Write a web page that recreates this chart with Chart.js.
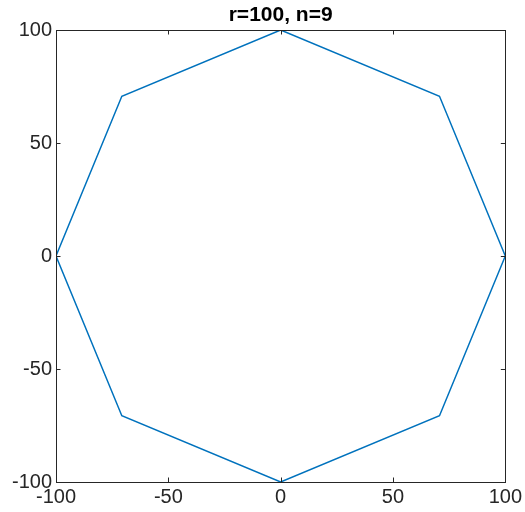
<!DOCTYPE html>
<html>
<head>
<meta charset="utf-8">
<script src="https://cdn.jsdelivr.net/npm/chart.js@4/dist/chart.umd.min.js"></script>
<style>
html,body{margin:0;padding:0;background:#fff;}
#wrap{width:525px;height:512px;position:relative;}
</style>
</head>
<body>
<div id="wrap"><canvas id="c"></canvas></div>
<script>
const titleText = "r=100, n=9";
const xValues = [100, 70.7, 0, -70.7, -100, -70.7, 0, 70.7, 100];
const yValues = [0, 70.7, 100, 70.7, 0, -70.7, -100, -70.7, 0];
const xTicks = [-100, -50, 0, 50, 100];
const yTicks = [-100, -50, 0, 50, 100];

const points = xValues.map((x, i) => ({x: x, y: yValues[i]}));
const axisColor = '#262626';
const fontFam = 'Liberation Sans, Arial, sans-serif';

const boxPlugin = {
  id: 'box',
  afterDatasetsDraw(chart) {
    const {ctx, chartArea: a, scales} = chart;
    ctx.save();
    ctx.strokeStyle = axisColor;
    ctx.lineWidth = 1;
    ctx.beginPath();
    ctx.rect(Math.round(a.left) + 0.5, Math.round(a.top) + 0.5, Math.round(a.right - a.left), Math.round(a.bottom - a.top));
    ctx.stroke();
    const tl = 4.5;
    ctx.beginPath();
    xTicks.forEach(v => {
      const px = Math.round(scales.x.getPixelForValue(v)) + 0.5;
      ctx.moveTo(px, a.bottom); ctx.lineTo(px, a.bottom - tl);
      ctx.moveTo(px, a.top); ctx.lineTo(px, a.top + tl);
    });
    yTicks.forEach(v => {
      const py = Math.round(scales.y.getPixelForValue(v)) + 0.5;
      ctx.moveTo(a.left, py); ctx.lineTo(a.left + tl, py);
      ctx.moveTo(a.right, py); ctx.lineTo(a.right - tl, py);
    });
    ctx.stroke();
    // title centred over the plot area
    ctx.fillStyle = '#000';
    ctx.font = 'bold 21px ' + fontFam;
    ctx.textAlign = 'center';
    ctx.textBaseline = 'alphabetic';
    ctx.fillText(titleText, (a.left + a.right) / 2, a.top - 9);
    ctx.restore();
  }
};

new Chart(document.getElementById('c'), {
  type: 'scatter',
  data: {
    datasets: [{
      data: points,
      showLine: true,
      borderColor: '#0072BD',
      borderWidth: 1.5,
      pointRadius: 0,
      fill: false,
      tension: 0
    }]
  },
  options: {
    responsive: true,
    maintainAspectRatio: false,
    animation: false,
    layout: {padding: {left: 0, right: 19, top: 30, bottom: 0}},
    plugins: {
      legend: {display: false},
      tooltip: {enabled: false},
      title: {display: false}
    },
    scales: {
      x: {
        type: 'linear',
        min: -100, max: 100,
        afterBuildTicks(scale) { scale.ticks = xTicks.map(v => ({value: v})); },
        afterFit(scale) { scale.height = 30; },
        grid: {display: false, drawTicks: false},
        border: {display: true, color: axisColor},
        ticks: {
          color: axisColor,
          padding: 3,
          maxRotation: 0,
          font: {family: fontFam, size: 20}
        }
      },
      y: {
        type: 'linear',
        min: -100, max: 100,
        afterBuildTicks(scale) { scale.ticks = yTicks.map(v => ({value: v})); },
        afterFit(scale) { scale.width = 56; },
        grid: {display: false, drawTicks: false},
        border: {display: true, color: axisColor},
        ticks: {
          color: axisColor,
          padding: 4,
          font: {family: fontFam, size: 20}
        }
      }
    }
  },
  plugins: [boxPlugin]
});
</script>
</body>
</html>
